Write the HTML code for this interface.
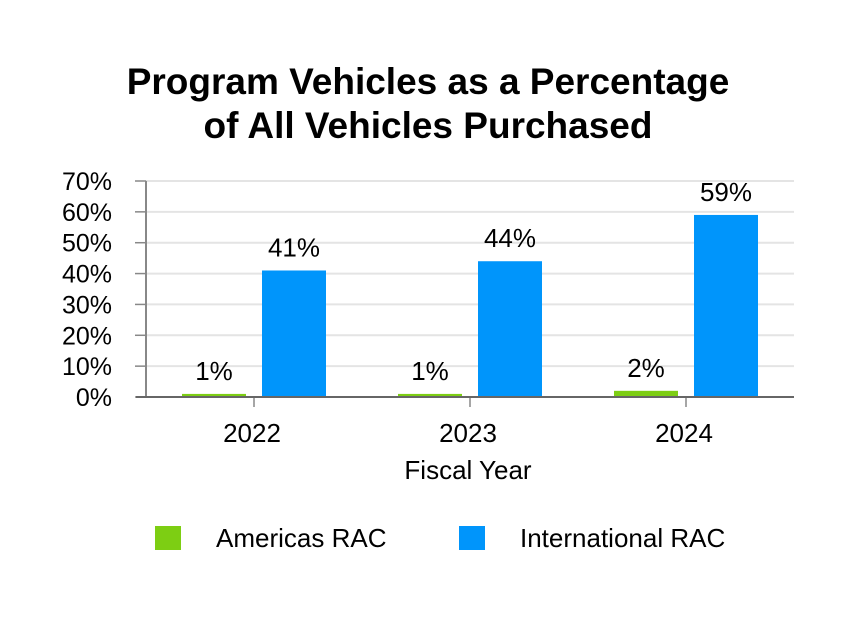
<!DOCTYPE html>
<html><head><meta charset="utf-8"><style>
body{margin:0;background:#fff;font-family:"Liberation Sans",Arial,sans-serif}
svg{display:block}
</style></head><body>
<svg width="858" height="628" viewBox="0 0 858 628">
<text x="428" y="94" text-anchor="middle" font-size="37" font-weight="bold">Program Vehicles as a Percentage</text>
<text x="428" y="138" text-anchor="middle" font-size="37" font-weight="bold">of All Vehicles Purchased</text>
<g id="grid"></g><g id="bars"></g><g id="axes"></g>
<text x="468" y="479" text-anchor="middle" font-size="26">Fiscal Year</text>
<rect x="155" y="526" width="26" height="24" fill="#7dce13"/>
<text x="216" y="547" font-size="26">Americas RAC</text>
<rect x="459" y="526" width="26" height="24" fill="#0095fb"/>
<text x="520" y="547" font-size="26">International RAC</text>
</svg>
<script>
const categories=["2022","2023","2024"];
const americas=[1,1,2];
const international=[41,44,59];
const yTicks=[0,10,20,30,40,50,60,70];
const NS="http://www.w3.org/2000/svg";
const x0=146,x1=794,y0=397,yMax=70,yTop=181;
const band=(x1-x0)/categories.length;
function y(v){return y0-(y0-yTop)*v/yMax;}
function bx(i){return x0+band*i;}
function mk(tag,attrs,parent){const e=document.createElementNS(NS,tag);for(const k in attrs)e.setAttribute(k,attrs[k]);parent.appendChild(e);return e;}
const grid=document.getElementById('grid'),bars=document.getElementById('bars'),axes=document.getElementById('axes');
yTicks.forEach(t=>{
 if(t>0){const g=mk('line',{x1:x0,x2:x1,y1:y(t),y2:y(t),stroke:'#e4e4e4','stroke-width':2},grid);
 
 }
 const tk=mk('line',{x1:135,x2:x0,y1:y(t),y2:y(t),stroke:'#888','stroke-width':1.5},axes);
 
 
 const l=mk('text',{x:112,y:y(t)+9,'text-anchor':'end','font-size':25},axes);l.textContent=t+'%';
 
 
});
categories.forEach((c,i)=>{
 const cx=bx(i)+band/2;
 [[americas[i],'#7dce13',cx-72,'bar-americas-'+c],[international[i],'#0095fb',cx+8,'bar-international-'+c]].forEach(([v,col,x,n])=>{
  const r=mk('rect',{x:x,y:y(v),width:64,height:y0-y(v),fill:col},bars);
  
  
  const t=mk('text',{x:x+32,y:y(v)-14,'text-anchor':'middle','font-size':26},bars);t.textContent=v+'%';
  
  
 });
 const tk=mk('line',{x1:cx,x2:cx,y1:y0,y2:y0+10,stroke:'#888','stroke-width':1.5},axes);
 
 
 const l=mk('text',{x:cx-2,y:442,'text-anchor':'middle','font-size':26},axes);l.textContent=c;
 
 
});
const ya=mk('line',{x1:x0,x2:x0,y1:yTop,y2:y0,stroke:'#888','stroke-width':2},axes);


const xa=mk('line',{x1:x0-10,x2:x1,y1:y0,y2:y0,stroke:'#666','stroke-width':2},axes);


</script>
</body></html>
